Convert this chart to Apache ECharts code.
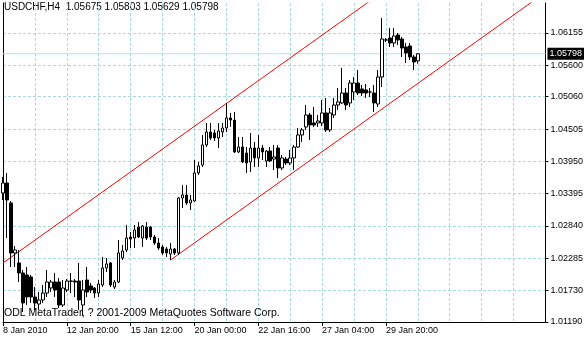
<!DOCTYPE html>
<html>
<head>
<meta charset="utf-8">
<script src="https://cdn.jsdelivr.net/npm/echarts@6/dist/echarts.min.js"></script>
<style>
html,body{margin:0;padding:0;background:#fff;}
#chart{width:586px;height:340px;}
</style>
</head>
<body>
<div id="chart"></div>
<script>
// ---- data ----
const symbol = 'USDCHF,H4';
const open = [1.03406,1.03578,1.03235,1.02376,1.02204,1.02032,1.01998,1.01963,1.01620,1.01499,
1.01568,1.01688,1.01774,1.01877,1.01877,1.01482,1.01740,1.01894,1.01894,1.01894,
1.01482,1.01912,1.01809,1.01774,1.01688,1.01826,1.02118,1.02204,1.01791,1.01877,
1.02290,1.02427,1.02650,1.02633,1.02822,1.02633,1.02822,1.02822,1.02650,1.02547,
1.02479,1.02444,1.02358,1.02444,1.02376,1.03320,1.03372,1.03235,1.03269,1.03750,
1.03887,1.04231,1.04454,1.04437,1.04351,1.04454,1.04523,1.04695,1.04660,1.04111,
1.04196,1.04093,1.03939,1.04179,1.04008,1.04179,1.03956,1.04128,1.03990,1.04179,
1.03836,1.03990,1.03922,1.04008,1.04196,1.04403,1.04540,1.04746,1.04609,1.04609,
1.04609,1.04781,1.04489,1.04746,1.04918,1.04953,1.05124,1.04953,1.05141,1.05296,
1.05193,1.05176,1.05141,1.05124,1.04935,1.05399,1.06035,1.06069,1.05983,1.06121,
1.06052,1.05915,1.05932,1.05743,1.05675];
const high = [1.03681,1.03750,1.03269,1.02496,1.02427,1.02083,1.02135,1.01998,1.01791,1.01705,
1.01826,1.02083,1.01912,1.02032,1.01946,1.01912,1.01929,1.02032,1.01929,1.02204,
1.01912,1.02135,1.01860,1.01791,1.01912,1.02307,1.02290,1.02221,1.01912,1.02599,
1.02513,1.02857,1.02736,1.02857,1.02908,1.02857,1.02908,1.02839,1.02685,1.02633,
1.02513,1.02479,1.02547,1.02461,1.03338,1.03544,1.03544,1.03372,1.03973,1.03939,
1.04403,1.04609,1.04609,1.04489,1.04609,1.04609,1.04953,1.04781,1.04798,1.04368,
1.04368,1.04196,1.04437,1.04282,1.04403,1.04231,1.04145,1.04196,1.04231,1.04231,
1.04059,1.04025,1.04145,1.04231,1.04523,1.04523,1.04918,1.04781,1.04884,1.04746,
1.05004,1.05038,1.04867,1.05038,1.05210,1.05554,1.05210,1.05348,1.05399,1.05519,
1.05262,1.05279,1.05210,1.05262,1.05519,1.06413,1.06069,1.06241,1.06241,1.06155,
1.06086,1.05983,1.05983,1.05777,1.05803];
const low = [1.03286,1.02633,1.02135,1.02135,1.01877,1.01362,1.01482,1.01517,1.01396,1.01396,
1.01517,1.01620,1.01705,1.01620,1.01431,1.01448,1.01705,1.01688,1.01620,1.01396,
1.01293,1.01620,1.01688,1.01602,1.01620,1.01791,1.02049,1.01791,1.01757,1.01860,
1.02255,1.02393,1.02461,1.02461,1.02633,1.02479,1.02599,1.02599,1.02513,1.02427,
1.02341,1.02307,1.02255,1.02341,1.02341,1.03149,1.03200,1.03114,1.03252,1.03716,
1.03853,1.04196,1.04317,1.04300,1.04179,1.04368,1.04454,1.04540,1.04093,1.04093,
1.03922,1.03750,1.03767,1.03853,1.03853,1.03973,1.03853,1.03939,1.03801,1.03664,
1.03801,1.03887,1.03887,1.03801,1.04179,1.04282,1.04489,1.04317,1.04540,1.04540,
1.04557,1.04454,1.04454,1.04695,1.04832,1.04935,1.04832,1.04884,1.05004,1.05090,
1.05073,1.05038,1.05056,1.04798,1.04884,1.05227,1.06000,1.05915,1.05915,1.05949,
1.05743,1.05640,1.05691,1.05519,1.05629];
const close = [1.03578,1.03286,1.02376,1.02427,1.02032,1.01517,1.01620,1.01620,1.01517,1.01568,
1.01688,1.01877,1.01877,1.01740,1.01482,1.01774,1.01894,1.01890,1.01877,1.01568,
1.01740,1.01705,1.01740,1.01688,1.01843,1.02118,1.02187,1.01826,1.01877,1.02376,
1.02410,1.02633,1.02616,1.02771,1.02650,1.02839,1.02633,1.02650,1.02547,1.02461,
1.02376,1.02376,1.02444,1.02376,1.03320,1.03372,1.03235,1.03286,1.03750,1.03870,
1.04231,1.04454,1.04351,1.04351,1.04471,1.04523,1.04695,1.04660,1.04111,1.04196,
1.03939,1.03922,1.04179,1.04008,1.04179,1.04111,1.04128,1.03956,1.04025,1.03836,
1.04008,1.03922,1.04008,1.04196,1.04403,1.04489,1.04746,1.04575,1.04575,1.04643,
1.04781,1.04489,1.04781,1.04918,1.04970,1.05124,1.04918,1.05296,1.05296,1.05124,
1.05124,1.05124,1.05141,1.04953,1.05399,1.06052,1.06035,1.05983,1.06104,1.06035,
1.05897,1.05812,1.05743,1.05657,1.05798];
// time-axis tick labels, one every 16 bars (4-hour bars)
const timeLabels = ['8 Jan 2010','12 Jan 20:00','15 Jan 12:00','20 Jan 00:00','22 Jan 16:00','27 Jan 04:00','29 Jan 20:00'];
const barsPerLabel = 16;
const barsPerGrid = 8;
const totalSlots = 137; // visible bar slots including right shift
// price scale tick labels
const priceTicks = [1.01190,1.01730,1.02285,1.02840,1.03395,1.03950,1.04505,1.05060,1.05600,1.06155];
const priceMin = 1.01190, priceMax = 1.06670;
// equidistant channel (bar index, price)
const channelLower = [[42,1.02255],[136,1.06854]];
const channelUpper = [[0,1.02204],[136,1.08858]];
const copyright = 'ODL MetaTrader, ? 2001-2009 MetaQuotes Software Corp.';

// ---- build ----
const cats = [];
for (let i = 0; i < totalSlots; i++) {
  const k = i / barsPerLabel;
  cats.push(i % barsPerLabel === 0 && k < timeLabels.length ? timeLabels[k] : '');
}
const ohlc = open.map((o, i) => [o, close[i], low[i], high[i]]);
const last = open.length - 1;
const fmt = v => v.toFixed(5);
const FONT = "'Liberation Sans',Arial,sans-serif";
const FS = 9;
const GRID_C = '#a9d9d9';
const bidLine = [[0, close[last]], [totalSlots - 1, close[last]]];

const chart = echarts.init(document.getElementById('chart'), null, {renderer: 'canvas'});
chart.setOption({
  animation: false,
  backgroundColor: '#ffffff',
  grid: {left: 3, right: 39, top: 3, bottom: 18, containLabel: false},
  xAxis: {
    type: 'category', data: cats, boundaryGap: false,
    axisLine: {show: true, lineStyle: {color: '#000', width: 1}},
    axisTick: {show: true, length: 4, lineStyle: {color: '#000'}, interval: (i, v) => v !== ''},
    axisLabel: {show: true, interval: (i, v) => v !== '', align: 'left', margin: 4,
      color: '#000', fontFamily: FONT, fontSize: FS},
    splitLine: {show: true, interval: (i) => i % barsPerGrid === 0 && i > 0,
      lineStyle: {color: GRID_C, type: [3, 2], width: 1}}
  },
  yAxis: [{
    type: 'value', position: 'right', min: priceMin, max: priceMax,
    axisLine: {show: true, lineStyle: {color: '#000', width: 1}},
    axisTick: {show: true, length: 3, customValues: priceTicks, lineStyle: {color: '#000'}},
    axisLabel: {show: true, customValues: priceTicks, formatter: v => fmt(v), margin: 5,
      color: '#000', fontFamily: FONT, fontSize: FS},
    splitLine: {show: true, lineStyle: {color: GRID_C, type: [3, 2], width: 1}}
  }, {
    type: 'value', position: 'left', min: priceMin, max: priceMax,
    axisLine: {show: true, onZero: false, lineStyle: {color: '#000', width: 1}},
    axisTick: {show: false}, axisLabel: {show: false}, splitLine: {show: false}
  }],
  graphic: [
    {type: 'text', left: 4, top: 2, silent: true,
      style: {text: symbol + '  ' + fmt(open[last]) + ' ' + fmt(high[last]) + ' ' + fmt(low[last]) + ' ' + fmt(close[last]),
        fill: '#000', font: '10px ' + FONT}},
    {type: 'text', left: 4, top: 308, silent: true, z: 100,
      style: {text: copyright, fill: '#000', font: '10.5px ' + FONT}}
  ],
  series: [
    {type: 'line', data: bidLine, showSymbol: false, symbol: 'none', clip: false, silent: true, z: 1,
      lineStyle: {color: '#a8e8e8', width: 1},
      endLabel: {show: true, formatter: () => fmt(close[last]), distance: 2,
        color: '#fff', backgroundColor: '#000', padding: [2, 2, 1, 2],
        fontFamily: FONT, fontSize: FS}},
    {
      type: 'candlestick', data: ohlc, barWidth: 3,
      itemStyle: {color: '#ffffff', color0: '#000000', borderColor: '#000000', borderColor0: '#000000', borderWidth: 1},
      z: 3
    },
    {type: 'line', data: channelUpper, showSymbol: false, symbol: 'none', clip: true,
      lineStyle: {color: '#ff0000', width: 1}, z: 2, silent: true},
    {type: 'line', data: channelLower, showSymbol: false, symbol: 'none', clip: true,
      lineStyle: {color: '#ff0000', width: 1}, z: 2, silent: true}
  ]
});
</script>
</body>
</html>
